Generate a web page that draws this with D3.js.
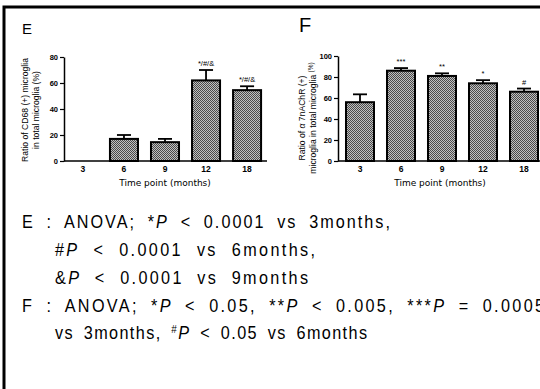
<!DOCTYPE html>
<html>
<head>
<meta charset="utf-8">
<script src="https://cdn.jsdelivr.net/npm/d3@7"></script>
<style>
  body { margin: 0; background: #fff; }
  svg { display: block; }
</style>
</head>
<body>
<div id="chart"></div>
<script>
// time points shared by both panels
const months = ['3', '6', '9', '12', '18'];

// panel E: CD68(+) microglia ratio
const cd68Mean = [0, 17, 14.5, 62, 54.5];
const cd68Err = [0, 3, 2.5, 8, 3];
const cd68Sig = ['', '', '', '*/#/&', '*/#/&'];
const cd68Ticks = [0, 20, 40, 60, 80];

// panel F: a7nAChR(+) microglia ratio
const a7Mean = [56, 86, 81, 74, 66];
const a7Err = [7.5, 2.5, 2.5, 3, 3];
const a7Sig = ['', '***', '**', '*', '#'];
const a7Ticks = [0, 20, 40, 60, 80, 100];

// legend text below the charts (<i> italic, <s> superscript)
const notes = [
  'E : ANOVA; *<i>P</i> < 0.0001 vs 3months,',
  '#<i>P</i> < 0.0001 vs 6months,',
  '&<i>P</i> < 0.0001 vs 9months',
  'F : ANOVA; *<i>P</i> < 0.05, **<i>P</i> < 0.005, ***<i>P</i> = 0.0005',
  'vs 3months, <s>#</s><i>P</i> < 0.05 vs 6months'
];

const W = 540, H = 389;
const svg = d3.select('#chart').append('svg')
  .attr('width', W)
  .attr('height', H);

// dithered grey fill like the original bars
const defs = svg.append('defs');
const pat = defs.append('pattern')
  .attr('id', 'dots')
  .attr('patternUnits', 'userSpaceOnUse')
  .attr('width', 2)
  .attr('height', 2);
pat.append('rect').attr('width', 2).attr('height', 2).attr('fill', '#c0c0c0');
pat.append('rect').attr('width', 1).attr('height', 1).attr('fill', '#4a4a4a');
pat.append('rect').attr('x', 1).attr('y', 1).attr('width', 1).attr('height', 1).attr('fill', '#4a4a4a');

// frame (top and left only, rest is cut off)
svg.append('path')
  .attr('d', 'M4,' + H + 'V7H' + W)
  .attr('fill', 'none')
  .attr('stroke', '#000')
  .attr('stroke-width', 3);

const tickFont = '"Liberation Sans", Arial, sans-serif';

function drawPanel(opt) {
  const x = d3.scaleBand()
    .domain(months)
    .range(opt.xRange)
    .paddingInner(0.317)
    .paddingOuter(opt.padOuter);

  const y = d3.scaleLinear()
    .domain([0, opt.ticks[opt.ticks.length - 1]])
    .range(opt.yRange);

  const g = svg.append('g');

  const rows = months.map(function(m, i) {
    return {m: m, v: opt.mean[i], e: opt.err[i], s: opt.sig[i]};
  });

  // bars
  g.selectAll('rect.bar')
    .data(rows.filter(function(d) { return d.v > 0; }))
    .enter().append('rect')
    .attr('class', 'bar')
    .attr('x', function(d) { return x(d.m); })
    .attr('y', function(d) { return y(d.v); })
    .attr('width', x.bandwidth())
    .attr('height', function(d) { return y(0) - y(d.v); })
    .attr('fill', 'url(#dots)')
    .attr('stroke', '#000')
    .attr('stroke-width', 2);

  // upper error bars
  const eb = g.selectAll('g.err')
    .data(rows.filter(function(d) { return d.e > 0; }))
    .enter().append('g')
    .attr('class', 'err')
    .attr('stroke', '#000')
    .attr('stroke-width', 1.8);
  eb.append('line')
    .attr('x1', function(d) { return x(d.m) + x.bandwidth() / 2; })
    .attr('x2', function(d) { return x(d.m) + x.bandwidth() / 2; })
    .attr('y1', function(d) { return y(d.v); })
    .attr('y2', function(d) { return y(d.v + d.e); });
  eb.append('line')
    .attr('x1', function(d) { return x(d.m) + x.bandwidth() / 4; })
    .attr('x2', function(d) { return x(d.m) + x.bandwidth() * 3 / 4; })
    .attr('y1', function(d) { return y(d.v + d.e); })
    .attr('y2', function(d) { return y(d.v + d.e); });

  // significance marks
  g.selectAll('text.sig')
    .data(rows.filter(function(d) { return d.s; }))
    .enter().append('text')
    .attr('class', 'sig')
    .attr('x', function(d) { return x(d.m) + x.bandwidth() / 2; })
    .attr('y', function(d) { return y(d.v + d.e) - 4; })
    .attr('text-anchor', 'middle')
    .attr('font-family', tickFont)
    .attr('font-size', 7.5)
    .text(function(d) { return d.s; });

  // y axis
  const yAxis = g.append('g')
    .attr('transform', 'translate(' + opt.xRange[0] + ',0)')
    .call(d3.axisLeft(y).tickValues(opt.ticks).tickSize(4).tickPadding(2).tickSizeOuter(0));
  yAxis.select('.domain').attr('stroke-width', 1.5);
  yAxis.selectAll('.tick line').attr('stroke-width', 1.2);
  yAxis.selectAll('text')
    .attr('font-family', tickFont)
    .attr('font-weight', 'bold')
    .attr('font-size', 7.5);

  // x axis
  const xAxis = g.append('g')
    .attr('transform', 'translate(0,' + opt.yRange[0] + ')')
    .call(d3.axisBottom(x).tickSize(0).tickPadding(5));
  xAxis.select('.domain')
    .attr('d', 'M' + opt.xRange[0] + ',0H' + opt.xEnd)
    .attr('stroke-width', 1.5);
  xAxis.selectAll('text')
    .attr('font-family', tickFont)
    .attr('font-weight', 'bold')
    .attr('font-size', 8.5);

  g.append('text')
    .attr('x', opt.xTitle)
    .attr('y', opt.yRange[0] + 25)
    .attr('text-anchor', 'middle')
    .attr('font-family', '"DejaVu Sans", sans-serif')
    .attr('font-size', 9)
    .text('Time point (months)');

  // y title, two rotated lines
  const yt = g.append('text')
    .attr('transform', 'translate(' + opt.yTitleX + ',' + opt.yTitleY + ') rotate(-90)')
    .attr('text-anchor', 'middle')
    .attr('font-family', tickFont)
    .attr('font-size', 8.6);
  opt.yTitle.forEach(function(line, i) {
    const t = yt.append('tspan')
      .attr('x', 0)
      .attr('y', i * 10.5);
    line.forEach(function(seg) {
      const s = t.append('tspan').text(seg[0]);
      if (seg[1] === 'i') s.attr('font-style', 'italic');
      if (seg[1] === 'sup') s.attr('font-size', 6.5).attr('dy', -3);
    });
  });

  // panel letter
  g.append('text')
    .attr('x', opt.letterX)
    .attr('y', opt.letterY)
    .attr('font-family', tickFont)
    .attr('font-size', opt.letterSize)
    .text(opt.letter);
}

drawPanel({
  letter: 'E', letterX: 22, letterY: 34, letterSize: 15,
  mean: cd68Mean, err: cd68Err, sig: cd68Sig, ticks: cd68Ticks,
  xRange: [64, 266], xEnd: 267, padOuter: 0.12,
  yRange: [161, 57],
  xTitle: 165,
  yTitleX: 28, yTitleY: 110,
  yTitle: [[['Ratio of CD68 (+) microglia']], [['in total microglia (%)']]]
});

drawPanel({
  letter: 'F', letterX: 299, letterY: 32, letterSize: 20,
  mean: a7Mean, err: a7Err, sig: a7Sig, ticks: a7Ticks,
  xRange: [338, 546], xEnd: 545, padOuter: 0.195,
  yRange: [161, 56],
  xTitle: 440,
  yTitleX: 305, yTitleY: 118,
  yTitle: [[['Ratio of '], ['\u03b1', 'i'], [' 7nAChR (+)']],
           [['microglia in total microglia '], ['(%)', 'sup']]]
});

// statistics note: narrow glyphs, wider spaces like the original gothic font
const squeeze = 0.9;
const noteLayout = [
  {x: 22, y: 228, len: 368},
  {x: 55, y: 256, len: 260},
  {x: 55, y: 284, len: 253},
  {x: 22, y: 312, len: 522},
  {x: 55, y: 339, len: 312}
];

notes.forEach(function(line, i) {
  const t = svg.append('text')
    .attr('transform', 'translate(' + noteLayout[i].x + ',' + noteLayout[i].y + ') scale(' + squeeze + ',1)')
    .attr('font-family', '"Liberation Sans", Arial, sans-serif')
    .attr('font-size', 18)
    .attr('fill', '#000');
  line.split(/(<[is]>.*?<\/[is]>)/).forEach(function(part) {
    if (!part) return;
    const m = part.match(/^<([is])>(.*?)<\/[is]>$/);
    if (!m) {
      t.append('tspan').text(part);
    } else if (m[1] === 'i') {
      t.append('tspan').attr('font-style', 'italic').text(m[2]);
    } else {
      t.append('tspan').attr('font-size', 11).attr('baseline-shift', '6').text(m[2]);
    }
  });
  const target = noteLayout[i].len / squeeze;
  const natural = t.node().getComputedTextLength();
  const spaces = (t.text().match(/ /g) || []).length;
  t.attr('word-spacing', Math.max(0, (target - natural) * 0.35 / spaces));
  t.attr('textLength', target).attr('lengthAdjust', 'spacing');
});
</script>
</body>
</html>
